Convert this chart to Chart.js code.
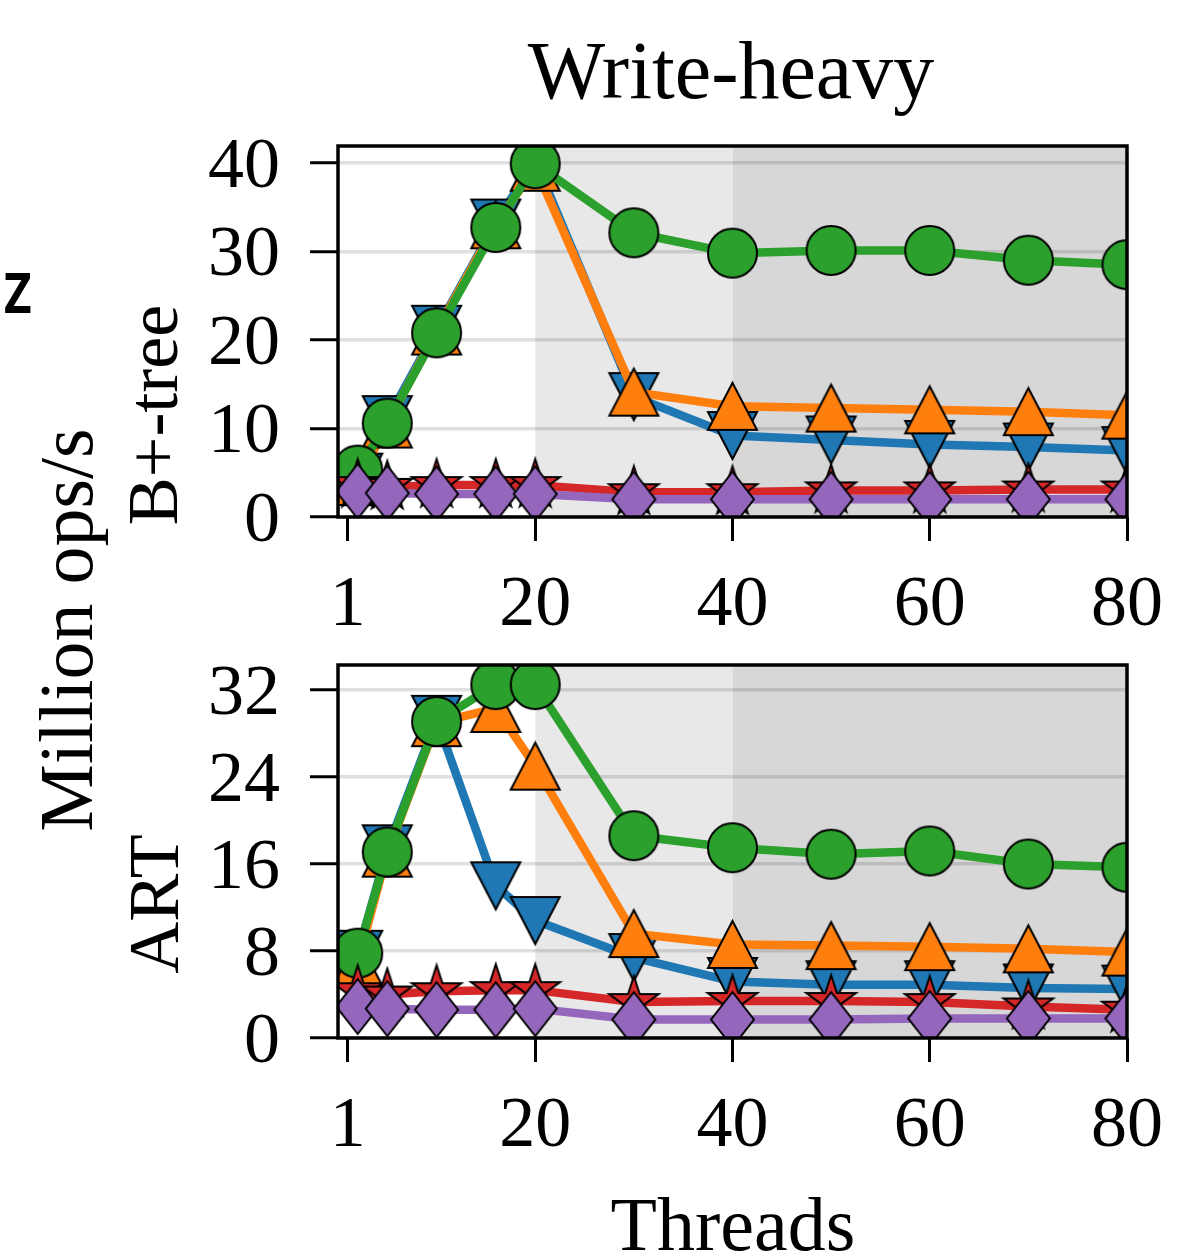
<!DOCTYPE html>
<html><head><meta charset="utf-8">
<script src="https://cdn.jsdelivr.net/npm/chart.js@4.4.1/dist/chart.umd.min.js"></script>
<style>
html,body{margin:0;padding:0;background:#fff;}
#wrap{position:relative;width:1198px;height:1260px;overflow:hidden;background:#fff;}
canvas{position:absolute;left:0;}
#c1{top:0;}
#c2{top:600px;}
svg{position:absolute;left:0;top:0;pointer-events:none;}
</style></head><body>
<div id="wrap">
<canvas id="c1" width="1198" height="640"></canvas>
<canvas id="c2" width="1198" height="660"></canvas>
<svg width="1198" height="1260" font-family="Liberation Serif, 'Times New Roman', serif" fill="#000">
  <text x="731" y="98" text-anchor="middle" font-size="82">Write-heavy</text>
  <text transform="translate(92,630) rotate(-90)" text-anchor="middle" font-size="76">Million ops/s</text>
  <text transform="translate(177,415) rotate(-90)" text-anchor="middle" font-size="72">B+-tree</text>
  <text transform="translate(178,904) rotate(-90)" text-anchor="middle" font-size="72">ART</text>
  <text x="733" y="1250" text-anchor="middle" font-size="76">Threads</text>
  <text transform="translate(4,313) scale(0.85,1)" font-family="'Open Sans', 'Noto Sans', sans-serif" font-weight="700" font-size="56">Z</text>
</svg>
</div>
<script>
// ---- data ----
const threads = [2, 5, 10, 16, 20, 30, 40, 50, 60, 70, 80];
const xTicks = [1, 20, 40, 60, 80];
const btreeTicks = [0, 10, 20, 30, 40];
const artTicks = [0, 8, 16, 24, 32];

const btreeBlue   = [4.5, 11.0, 21.2, 33.2, 40.3, 13.6, 9.2, 8.7, 8.2, 7.9, 7.5];
const btreeOrange = [4.0, 10.5, 21.0, 33.0, 39.5, 14.1, 12.5, 12.3, 12.1, 11.9, 11.5];
const btreeGreen  = [5.3, 10.6, 20.8, 32.7, 39.9, 32.1, 29.8, 30.1, 30.1, 29.0, 28.5];
const btreeRed    = [3.6, 3.4, 3.6, 3.6, 3.6, 2.8, 2.8, 3.0, 3.0, 3.1, 3.1];
const btreePurple = [2.9, 2.7, 2.6, 2.6, 2.6, 2.0, 2.0, 2.0, 2.0, 2.0, 2.0];

const artBlue   = [7.7, 17.4, 29.3, 14.0, 10.8, 7.4, 5.2, 4.9, 4.9, 4.6, 4.5];
const artOrange = [7.0, 17.0, 29.0, 30.3, 25.0, 9.6, 8.6, 8.5, 8.4, 8.2, 7.9];
const artGreen  = [7.8, 17.1, 29.1, 32.5, 32.5, 18.6, 17.5, 16.9, 17.2, 16.0, 15.7];
const artRed    = [4.3, 4.0, 4.3, 4.4, 4.4, 3.3, 3.4, 3.4, 3.3, 2.9, 2.6];
const artPurple = [2.9, 2.7, 2.6, 2.6, 2.7, 1.7, 1.7, 1.7, 1.8, 1.8, 1.8];

const lightRegion = [20, 40];
const darkRegion = [40, 80];

// ---- styling ----
const C = {blue:'#1f77b4', orange:'#ff7f0e', green:'#2ca02c', red:'#d62728', purple:'#9467bd'};

function marker(kind, fill, w, h) {
  const pad = 3;
  const c = document.createElement('canvas');
  c.width = Math.round(w + 2 * pad);
  c.height = Math.round(h + 2 * pad);
  const g = c.getContext('2d');
  const cx = c.width / 2, cy = c.height / 2;
  g.beginPath();
  if (kind === 'circle') {
    g.arc(cx, cy, w / 2, 0, Math.PI * 2);
  } else if (kind === 'up') {
    g.moveTo(cx, cy - h / 2); g.lineTo(cx + w / 2, cy + h / 2); g.lineTo(cx - w / 2, cy + h / 2);
  } else if (kind === 'down') {
    g.moveTo(cx, cy + h / 2); g.lineTo(cx + w / 2, cy - h / 2); g.lineTo(cx - w / 2, cy - h / 2);
  } else if (kind === 'diamond') {
    g.moveTo(cx, cy - h / 2); g.lineTo(cx + w / 2, cy); g.lineTo(cx, cy + h / 2); g.lineTo(cx - w / 2, cy);
  } else if (kind === 'star') {
    const R = w / 2, r = R * 0.382;
    for (let i = 0; i < 10; i++) {
      const a = -Math.PI / 2 + i * Math.PI / 5;
      const rr = i % 2 === 0 ? R : r;
      const px = cx + rr * Math.cos(a), py = cy + rr * Math.sin(a);
      if (i === 0) g.moveTo(px, py); else g.lineTo(px, py);
    }
  }
  g.closePath();
  g.fillStyle = fill;
  g.fill();
  g.lineWidth = 2;
  g.strokeStyle = '#000';
  g.lineJoin = 'miter';
  g.stroke();
  return c;
}

const M = {
  blue: marker('down', C.blue, 49, 47),
  orange: marker('up', C.orange, 49, 47),
  green: marker('circle', C.green, 49, 49),
  red: marker('star', C.red, 52, 52),
  purple: marker('diamond', C.purple, 43, 55)
};

function ds(label, values, color, pt, order) {
  return {
    label: label,
    data: threads.map((t, i) => ({x: t, y: values[i]})),
    borderColor: color,
    backgroundColor: color,
    borderWidth: 8.5,
    borderJoinStyle: 'round',
    tension: 0,
    pointStyle: pt,
    pointRadius: 25,
    clip: 0,
    order: order
  };
}

const framePlugin = {
  id: 'frame',
  beforeDraw(chart) {
    const {ctx, chartArea: a, scales: {x}} = chart;
    ctx.save();
    ctx.fillStyle = '#ffffff';
    ctx.fillRect(a.left, a.top, a.right - a.left, a.bottom - a.top);
    ctx.fillStyle = '#e8e8e8';
    let x0 = x.getPixelForValue(lightRegion[0]), x1 = x.getPixelForValue(lightRegion[1]);
    ctx.fillRect(x0, a.top, x1 - x0, a.bottom - a.top);
    ctx.fillStyle = '#d7d7d7';
    x0 = x.getPixelForValue(darkRegion[0]); x1 = x.getPixelForValue(darkRegion[1]);
    ctx.fillRect(x0, a.top, x1 - x0, a.bottom - a.top);
    ctx.restore();
  },
  afterDatasetsDraw(chart) {
    const {ctx, chartArea: a} = chart;
    ctx.save();
    ctx.strokeStyle = '#000';
    ctx.lineWidth = 3.5;
    ctx.strokeRect(a.left, a.top, a.right - a.left, a.bottom - a.top);
    ctx.restore();
  }
};

const tickFont = {family: "'Liberation Serif', 'Times New Roman', serif", size: 72};

function makeChart(id, series, yMax, yTicks, padTop, xAxisHeight) {
  return new Chart(document.getElementById(id), {
    type: 'line',
    data: {
      datasets: [
        ds('Series 1', series[0], C.blue, M.blue, 4),
        ds('Series 2', series[1], C.orange, M.orange, 3),
        ds('Series 3', series[2], C.green, M.green, 2),
        ds('Series 4', series[3], C.red, M.red, 1),
        ds('Series 5', series[4], C.purple, M.purple, 0)
      ]
    },
    options: {
      responsive: false,
      animation: false,
      devicePixelRatio: 1,
      events: [],
      layout: {padding: {top: padTop, left: 0, right: 71, bottom: 0}},
      plugins: {legend: {display: false}, tooltip: {enabled: false}},
      scales: {
        x: {
          type: 'linear', min: 0, max: 80,
          afterBuildTicks: s => { s.ticks = xTicks.map(v => ({value: v})); },
          afterFit: s => { s.height = xAxisHeight; s.paddingLeft = 0; s.paddingRight = 0; },
          grid: {drawOnChartArea: false, drawTicks: true, tickLength: 24, tickColor: '#000', tickWidth: 3},
          border: {display: false},
          ticks: {color: '#000', font: tickFont, padding: 22, maxRotation: 0, autoSkip: false}
        },
        y: {
          type: 'linear', min: 0, max: yMax,
          afterBuildTicks: s => { s.ticks = yTicks.map(v => ({value: v})); },
          afterFit: s => { s.width = 338; s.paddingTop = 0; s.paddingBottom = 0; },
          grid: {drawOnChartArea: true, color: 'rgba(0,0,0,0.12)', lineWidth: 3.5, drawTicks: true, tickLength: 28, tickColor: '#000', tickWidth: 3},
          border: {display: false},
          ticks: {color: '#000', font: tickFont, padding: 30, labelOffset: 5, autoSkip: false}
        }
      }
    },
    plugins: [framePlugin]
  });
}

makeChart('c1', [btreeBlue, btreeOrange, btreeGreen, btreeRed, btreePurple], 41.9, btreeTicks, 146, 123);
makeChart('c2', [artBlue, artOrange, artGreen, artRed, artPurple], 34.3, artTicks, 65, 222);
</script>
</body></html>
